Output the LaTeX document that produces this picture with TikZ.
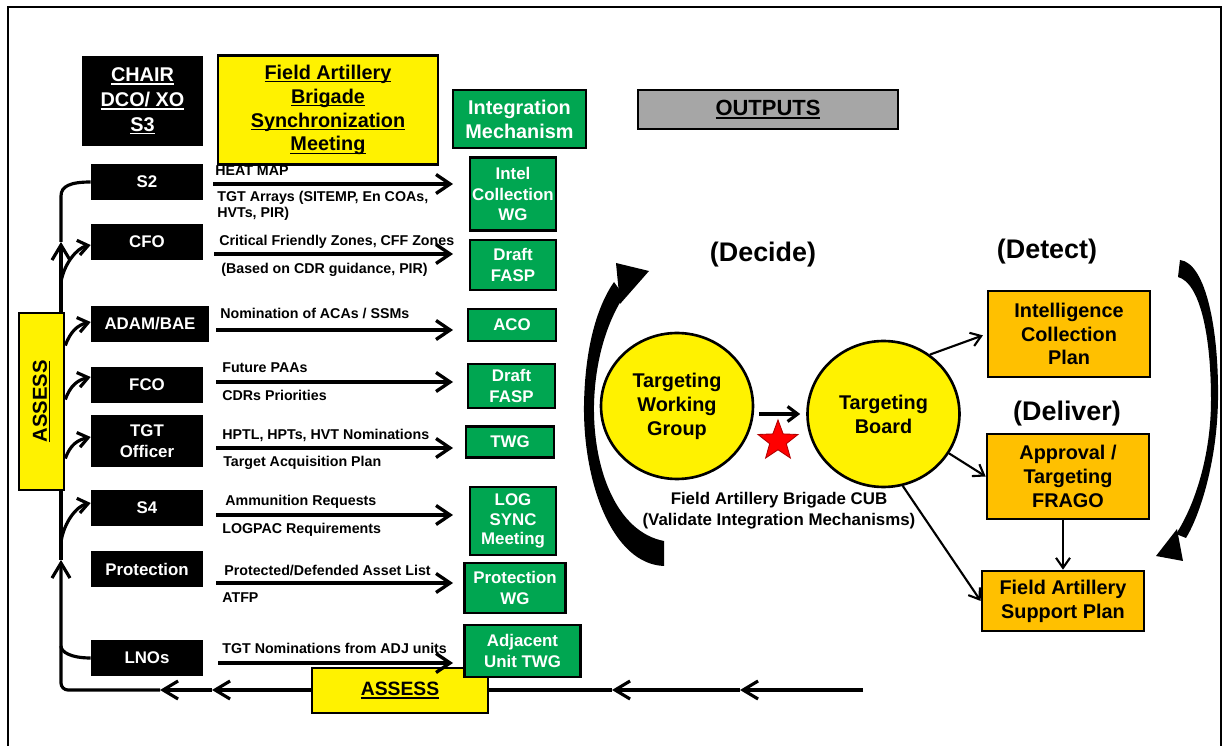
\documentclass[tikz,border=0pt]{standalone}
\usepackage{fontspec}
\setmainfont{Liberation Sans}
\usetikzlibrary{arrows.meta,shapes.geometric,backgrounds}

\definecolor{mechGreen}{RGB}{0,166,81}
\definecolor{outOrange}{RGB}{255,192,0}
\definecolor{outGrey}{RGB}{166,166,166}

\newcommand{\fsBig}{\fontsize{11.3}{13.6}\selectfont}
\newcommand{\fsMid}{\fontsize{9.6}{11.6}\selectfont}
\newcommand{\fsLab}{\fontsize{8.1}{9.1}\selectfont}
\newcommand{\fsPhase}{\fontsize{15.3}{18}\selectfont}
\newcommand{\undl}[1]{\setbox0\hbox{#1}\leavevmode\rlap{\rule[-0.16em]{\wd0}{0.08em}}\box0}

\tikzset{
  plainBox/.style={rectangle, draw, line width=1.5pt, inner sep=0pt, align=center},
  chairBox/.style={plainBox, fill=black, text=white, font=\bfseries\fontsize{11.3}{14.2}\selectfont},
  staffBox/.style={plainBox, fill=black, text=white, font=\bfseries\fsMid, minimum width=2.2cm, minimum height=0.66cm},
  meetBox/.style={plainBox, fill=yellow, font=\bfseries\fsBig},
  mechBox/.style={plainBox, fill=mechGreen, text=white, font=\bfseries\fsMid},
  outBox/.style={plainBox, fill=outOrange, font=\bfseries\fsBig, minimum width=3.24cm},
  board/.style={ellipse, draw, line width=1.5pt, fill=yellow, inner sep=0pt, align=center, font=\bfseries\fsBig, minimum width=3.04cm, minimum height=2.92cm},
  lab/.style={anchor=west, inner sep=0pt, align=left, font=\bfseries\fsLab},
  phaseText/.style={inner sep=0pt, font=\bfseries\fsPhase},
  flowArrow/.style={line width=1.9pt, -{Straight Barb[length=2.8mm,width=3.8mm]}},
  branchArrow/.style={line width=1.8pt, -{Straight Barb[length=2mm,width=3mm]}},
  loopLine/.style={line width=1.8pt},
  loopArrow/.style={line width=1.8pt, -{Straight Barb[length=3mm,width=3.6mm]}},
  outArrow/.style={line width=1.2pt, -{Straight Barb[length=2mm,width=2.8mm]}}
}

\begin{document}
\begin{tikzpicture}[x=0.02cm, y=-0.02cm]
\useasboundingbox (0,0) rectangle (1225,746);
% frame
\draw[line width=1.2pt] (8,760) -- (8,7) -- (1221,7) -- (1221,760);

% header row
\node[chairBox, minimum width=2.38cm, minimum height=1.74cm] (chair) at (142.5,101) {\undl{CHAIR}\\\undl{DCO/ XO}\\\undl{S3}};
\node[meetBox, minimum width=4.4cm, minimum height=2.18cm] (fabsm) at (328,110) {\undl{Field Artillery}\\\undl{Brigade}\\\undl{Synchronization}\\\undl{Meeting}};
\node[mechBox, font=\bfseries\fsBig, minimum width=2.66cm, minimum height=1.16cm] (integ) at (519.5,119) {Integration\\Mechanism};
\node[plainBox, fill=outGrey, font=\bfseries\fontsize{12.5}{15}\selectfont, minimum width=5.2cm, minimum height=0.78cm] (outputs) at (768,109.5) {\undl{OUTPUTS}};

% staff sections
\node[staffBox] (s2) at (147,182) {S2};
\node[staffBox] (cfo) at (147,242) {CFO};
\node[staffBox, minimum width=2.32cm] (adam) at (150,324) {ADAM/BAE};
\node[staffBox] (fco) at (147,385) {FCO};
\node[staffBox, minimum height=1cm, font=\bfseries\fontsize{9.6}{11.9}\selectfont] (tgt) at (147,441) {TGT\\Officer};
\node[staffBox] (s4) at (147,508) {S4};
\node[staffBox] (prot) at (147,569) {Protection};
\node[staffBox] (lno) at (147,658) {LNOs};

% assess boxes
\node[meetBox, rotate=90, font=\bfseries\fontsize{11.5}{13}\selectfont, minimum width=3.54cm, minimum height=0.9cm] (assessV) at (41.5,401.5) {\undl{ASSESS}};
\node[meetBox, font=\bfseries\fontsize{11}{13}\selectfont, minimum width=3.52cm, minimum height=0.9cm] (assessB) at (400,690.5) {\undl{ASSESS}};

% integration mechanisms
\node[mechBox, minimum width=1.72cm, minimum height=1.46cm] (icwg) at (513,194) {Intel\\Collection\\WG};
\node[mechBox, minimum width=1.72cm, minimum height=1cm] (fasp1) at (513,265) {Draft\\FASP};
\node[mechBox, minimum width=1.76cm, minimum height=0.64cm] (aco) at (512,325) {ACO};
\node[mechBox, minimum width=1.74cm, minimum height=0.88cm] (fasp2) at (511.5,386) {Draft\\FASP};
\node[mechBox, minimum width=1.76cm, minimum height=0.62cm] (twg) at (510,442) {TWG};
\node[mechBox, minimum width=1.72cm, minimum height=1.36cm, font=\bfseries\fontsize{9.6}{11.3}\selectfont] (log) at (513,521) {LOG\\SYNC\\Meeting};
\node[mechBox, minimum width=2.02cm, minimum height=1cm] (pwg) at (515,588) {Protection\\WG};
\node[mechBox, minimum width=2.32cm, minimum height=1.04cm] (adj) at (522.5,651) {Adjacent\\Unit TWG};

% staff inputs
\coordinate (arrEnd) at (453,0);
\draw[flowArrow, shorten <=0.2cm] ([yshift=-0.04cm]s2.east) -- ([yshift=-0.04cm]s2.east -| arrEnd);
\draw[flowArrow, shorten <=0.22cm] ([yshift=-0.24cm]cfo.east) -- ([yshift=-0.24cm]cfo.east -| arrEnd);
\draw[flowArrow, shorten <=0.14cm] ([yshift=-0.12cm]adam.east) -- ([yshift=-0.12cm]adam.east -| arrEnd);
\draw[flowArrow, shorten <=0.26cm] ([yshift=0.06cm]fco.east) -- ([yshift=0.06cm]fco.east -| arrEnd);
\draw[flowArrow, shorten <=0.26cm] ([yshift=-0.14cm]tgt.east) -- ([yshift=-0.14cm]tgt.east -| arrEnd);
\draw[flowArrow, shorten <=0.26cm] ([yshift=-0.14cm]s4.east) -- ([yshift=-0.14cm]s4.east -| arrEnd);
\draw[flowArrow, shorten <=0.26cm] ([yshift=-0.28cm]prot.east) -- ([yshift=-0.28cm]prot.east -| arrEnd);
\draw[flowArrow, shorten <=0.3cm] ([yshift=-0.1cm]lno.east) -- ([yshift=-0.1cm]lno.east -| arrEnd);

\node[lab] (l1) at (215,171) {HEAT MAP};
\node[lab] (l2) at (217,206) {TGT Arrays (SITEMP, En COAs,\\HVTs, PIR)};
\node[lab] (l3) at (219,242) {Critical Friendly Zones, CFF Zones};
\node[lab] (l4) at (221,270) {(Based on CDR guidance, PIR)};
\node[lab] (l5) at (220,313) {Nomination of ACAs / SSMs};
\node[lab] (l6) at (222,368) {Future PAAs};
\node[lab] (l7) at (222,395) {CDRs Priorities};
\node[lab] (l8) at (222,435) {HPTL, HPTs, HVT Nominations};
\node[lab] (l9) at (223,463) {Target Acquisition Plan};
\node[lab] (l10) at (225,502) {Ammunition Requests};
\node[lab] (l11) at (222,530) {LOGPAC Requirements};
\node[lab] (l12) at (224,570) {Protected/Defended Asset List};
\node[lab] (l13) at (222,598) {ATFP};
\node[lab] (l14) at (222,648) {TGT Nominations from ADJ units};

% assess loop
\coordinate (loopR) at (863,690);
\coordinate (m1) at (740,690);
\coordinate (m2) at (612,690);
\coordinate (m3) at (212,690);
\coordinate (m4) at (160,690);
\coordinate (corner) at (61,690);
\coordinate (forkLNO) at (61,646);
\coordinate (m5) at (61,560);
\coordinate (forkS4) at (61,542);
\coordinate (forkCFO) at (61,282);
\coordinate (m6) at (61,242);
\coordinate (vTop) at (61,196);
\begin{scope}[on background layer]
\draw[loopArrow] (loopR) -- (m1);
\draw[loopArrow] (m1) -- (m2);
\draw[loopArrow] (m2) -- (m3);
\draw[loopArrow] (m3) -- (m4);
\draw[loopArrow, rounded corners=0.14cm] (m4) -- (corner) -- (m5);
\draw[loopArrow] (m5) -- (m6);
\draw[loopLine] (m6) -- (vTop) .. controls +(0,-10) and +(-20,0) .. (s2.west);
\end{scope}
\draw[loopLine] (lno.west) .. controls +(-20,0) and +(0,6) .. (forkLNO);
\draw[branchArrow] (forkCFO) .. controls +(3,-18) and +(-14,3) .. ([yshift=-0.06cm]cfo.west);
\draw[branchArrow] ([yshift=1.12cm]assessV.south) .. controls +(5,-14) and +(-13,3) .. ([yshift=0.04cm]adam.west);
\draw[branchArrow] ([yshift=0.04cm]assessV.south) .. controls +(5,-14) and +(-13,3) .. ([yshift=0.16cm]fco.west);
\draw[branchArrow] ([yshift=-1.14cm]assessV.south) .. controls +(5,-14) and +(-13,3) .. ([yshift=0.08cm]tgt.west);
\draw[branchArrow] (forkS4) .. controls +(3,-20) and +(-14,3) .. ([yshift=0.1cm]s4.west);

% targeting cycle
\node[phaseText] (decide) at (763,255) {(Decide)};
\node[phaseText] (detect) at (1047,252) {(Detect)};
\node[phaseText] (deliver) at (1067,414) {(Deliver)};
\node[board] (twgB) at (677,406) {Targeting\\Working\\Group};
\node[board] (tb) at (883.5,414) {Targeting\\Board};
\node[star, star points=5, star point ratio=2.4, fill=red, draw=red!70!black, line width=0.5pt, minimum size=0.84cm, inner sep=0pt] (tgtStar) at (778,441) {};
\node[inner sep=0pt, align=center, font=\bfseries\fontsize{9.6}{11.9}\selectfont] (cub) at (779,510.5) {Field Artillery Brigade CUB\\(Validate Integration Mechanisms)};

\node[outBox, minimum height=1.72cm] (icp) at (1069,334) {Intelligence\\Collection\\Plan};
\node[outBox, minimum height=1.7cm] (appr) at (1068,476.5) {Approval /\\Targeting\\FRAGO};
\node[outBox, minimum height=1.2cm] (fasp3) at (1063,601) {Field Artillery\\Support Plan};

\draw[branchArrow, shorten <=0.1cm, shorten >=0.12cm] (twgB.east |- tb.west) -- (tb.west);
\draw[outArrow, shorten >=0.08cm] (tb.52) -- (icp.west);
\draw[outArrow] (tb.-31) -- (appr.west);
\draw[outArrow] (tb.-75) -- (fasp3.west);
\draw[outArrow] ([xshift=-0.1cm]appr.south) -- ([xshift=-0.1cm]appr.south |- fasp3.north);

% cycle arrows
\fill (664,566) .. controls (612,564) and (583,482) .. (584,405) .. controls (585,345) and (598,305) .. (614,282) -- (624,296) .. controls (607,322) and (595,360) .. (594,405) .. controls (593,470) and (617,532) .. (664,541) -- cycle;
\fill (616,263) -- (649,271) -- (620,304) -- cycle;
\fill (1180,260) .. controls (1206,263) and (1219,330) .. (1218,400) .. controls (1217,462) and (1200,515) .. (1186,538) -- (1176,534) .. controls (1195,505) and (1211,455) .. (1211,400) .. controls (1211,335) and (1200,283) .. (1178,277) -- cycle;
\fill (1156,556) -- (1177,529) -- (1183,561) -- cycle;
\end{tikzpicture}
\end{document}
